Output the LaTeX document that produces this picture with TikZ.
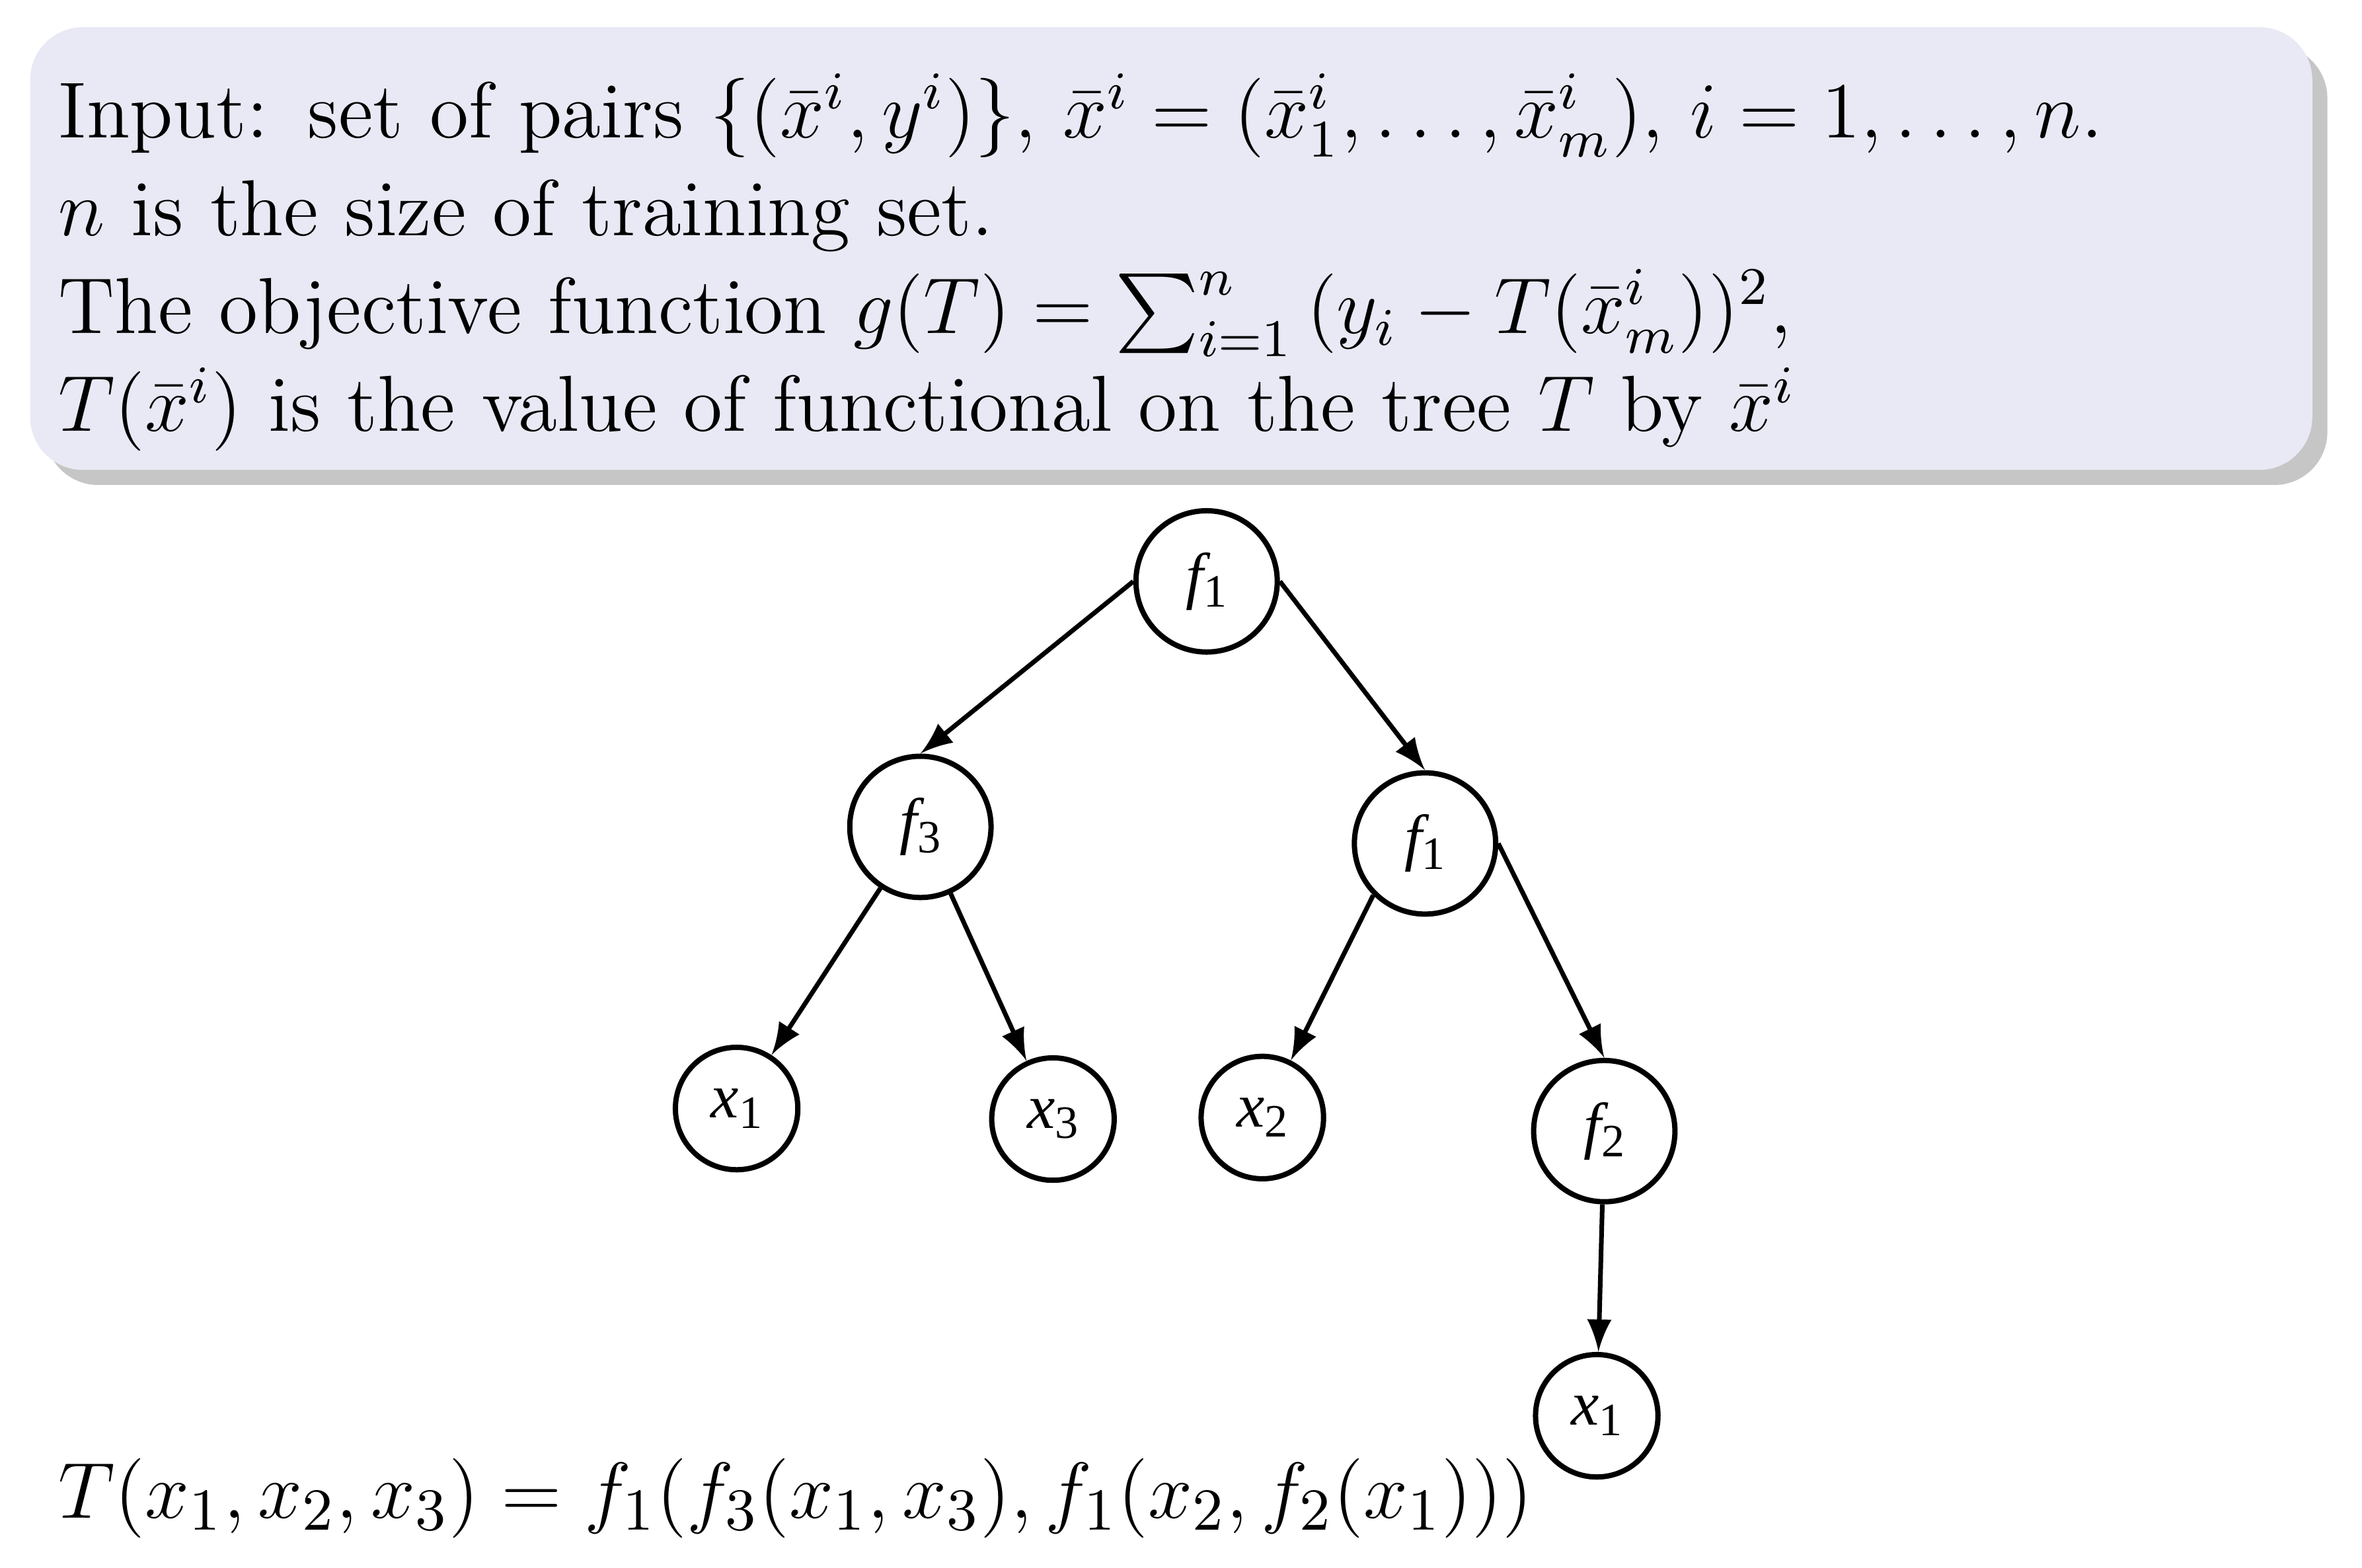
\documentclass[tikz,border=0pt]{standalone}
\usepackage{fontspec}
\usepackage{amsmath}
\newfontfamily\tms[ItalicFont={Liberation Serif Italic}]{Liberation Serif}
\definecolor{boxbg}{RGB}{232,233,244}
\newcommand{\tl}[2]{{\tms\fontsize{9.5}{11}\selectfont\itshape #1\upshape\raisebox{-0.35ex}{\fontsize{7}{8}\selectfont #2}}}
\begin{document}
\begin{tikzpicture}[x=0.008cm,y=-0.008cm,
  big/.style={circle,draw,line width=0.8pt,minimum size=0.75cm,inner sep=0pt},
  sml/.style={circle,draw,line width=0.8pt,minimum size=0.65cm,inner sep=0pt},
  arr/.style={-latex,line width=0.7pt}]
\useasboundingbox (0,0) rectangle (1568,1041);
\fill[gray!45,rounded corners=8pt] (30,30) rectangle (1545,322);
\fill[boxbg,rounded corners=8pt] (20,18) rectangle (1535,312);
\node[anchor=north west,align=left,text width=12cm,inner sep=0pt,font=\large,
  execute at begin node=\setlength{\baselineskip}{0.52cm}] (txt) at (38,48) {%
Input: set of pairs $\{(\bar{x}^i,y^i)\}$, $\bar{x}^i=(\bar{x}^i_1,\dots,\bar{x}^i_m)$, $i=1,\dots,n$.\\
$n$ is the size of training set.\\
The objective function $g(T)=\sum_{i=1}^{n}\,(y_i-T(\bar{x}^i_m))^2$,\\
$T(\bar{x}^i)$ is the value of functional on the tree $T$ by $\bar{x}^i$};
\node[big] (a) at (801,386) {\tl{f}{1}};
\node[big] (b) at (611,549) {\tl{f}{3}};
\node[big] (c) at (946,560) {\tl{f}{1}};
\node[sml] (d) at (489,736) {\tl{x}{1}};
\node[sml] (e) at (699,743) {\tl{x}{3}};
\node[sml] (f) at (838,742) {\tl{x}{2}};
\node[big] (g) at (1065,751) {\tl{f}{2}};
\node[sml] (h) at (1060,940) {\tl{x}{1}};
\draw[arr] (a.west) -- (b.north); \draw[arr] (a.east) -- (c.north);
\draw[arr] (b) -- (d); \draw[arr] (b) -- (e);
\draw[arr] (c.south west) -- (f); \draw[arr] (c.east) -- (g.north);
\draw[arr] (g) -- (h);
\node[anchor=base west,inner sep=0pt,font=\fontsize{12.5}{14}\selectfont] (form) at (38,1008)
 {$T(x_1,x_2,x_3)=f_1(f_3(x_1,x_3),f_1(x_2,f_2(x_1)))$};
\end{tikzpicture}
\end{document}
